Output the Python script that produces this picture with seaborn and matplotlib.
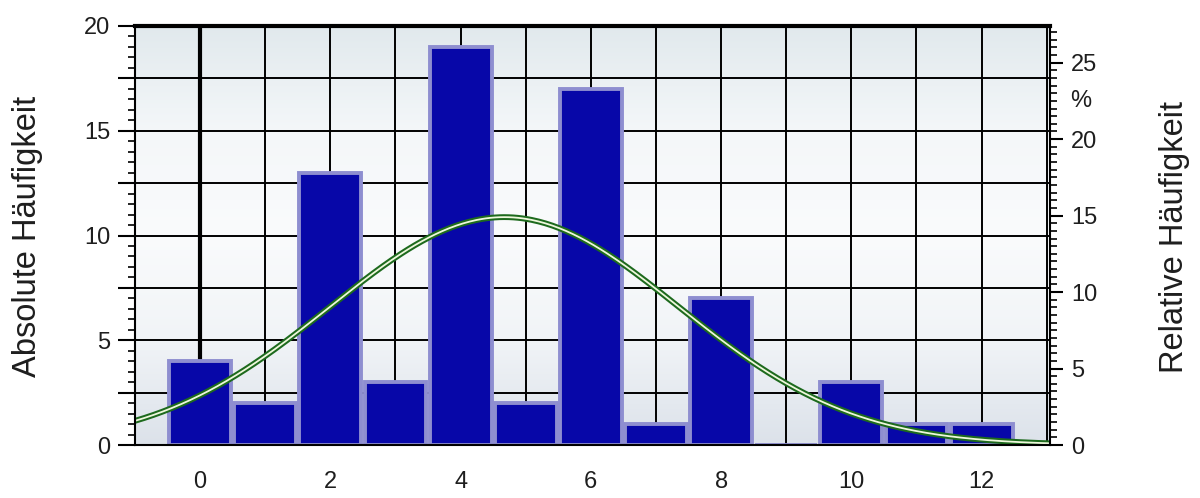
import numpy as np
import pandas as pd
import matplotlib
matplotlib.use('Agg')
import matplotlib.pyplot as plt
import seaborn as sns
from matplotlib.ticker import MultipleLocator, FuncFormatter
from matplotlib.colors import LinearSegmentedColormap

# Klassen und absolute Haeufigkeiten
klassen = list(range(13))
haeufigkeit = [4, 2, 13, 3, 19, 2, 17, 1, 7, 0, 3, 1, 1]

sns.set_style('white')
plt.rcParams['font.family'] = ['Liberation Sans', 'DejaVu Sans']

df = pd.DataFrame({'klasse': klassen, 'n': haeufigkeit})
n_total = df['n'].sum()
mittel = (df['klasse'] * df['n']).sum() / n_total
sd = np.sqrt(((df['klasse'] - mittel) ** 2 * df['n']).sum() / (n_total - 1))

xmin, xmax = -1.0, 13.05
ymax = 20
textfarbe = '#1e1e1e'

fig = plt.figure(figsize=(12, 4.98), dpi=100)
ax = fig.add_axes([0.1125, 0.1064, 0.7625, 0.8414])

# hintergrund verlauf
grad = np.linspace(0, 1, 256).reshape(-1, 1)
bg = LinearSegmentedColormap.from_list('bg', ['#e1e9ed', '#f4f7f9', '#fafbfc', '#f1f4f7', '#dce2ea'])
ax.imshow(grad, aspect='auto', cmap=bg, extent=[0, 1, 0, 1], transform=ax.transAxes, zorder=0)

# gitter
ax.set_axisbelow(True)
ax.grid(True, which='major', color='black', lw=1.4, zorder=1)
ax.axvline(0, color='black', lw=3, zorder=1.5)

# balken
sns.barplot(data=df, x='klasse', y='n', native_scale=True, width=0.95,
            color='#0707a8', saturation=1, edgecolor='#8e8ed0', linewidth=2.8,
            ax=ax, zorder=3)

# normalverteilung
xs = np.linspace(xmin, xmax, 400)
ys = n_total / (sd * np.sqrt(2 * np.pi)) * np.exp(-0.5 * ((xs - mittel) / sd) ** 2)
sns.lineplot(x=xs, y=ys, color='#1d6a1d', lw=4.2, ax=ax, zorder=4)
sns.lineplot(x=xs, y=ys, color='#eef8dc', lw=1.3, ax=ax, zorder=5)

ax.set_xlim(xmin, xmax)
ax.set_ylim(0, ymax)
ax.set_xlabel('')
ax.set_ylabel('')

ax.xaxis.set_major_locator(MultipleLocator(1))
ax.xaxis.set_minor_locator(MultipleLocator(0.2))
ax.xaxis.set_major_formatter(FuncFormatter(lambda v, p: f'{int(round(v))}' if round(v) % 2 == 0 else ''))
ax.yaxis.set_major_locator(MultipleLocator(2.5))
ax.yaxis.set_minor_locator(MultipleLocator(0.5))
ax.yaxis.set_major_formatter(FuncFormatter(lambda v, p: f'{int(round(v))}' if abs(v % 5) < 1e-6 else ''))

ax.tick_params(axis='y', which='major', direction='out', length=12, width=1.5,
               color='black', labelsize=17, labelcolor=textfarbe, pad=6)
ax.tick_params(axis='y', which='minor', direction='out', length=5, width=1.2, color='black')
ax.tick_params(axis='x', which='major', direction='out', length=11, width=1.5,
               color='black', labelsize=17, labelcolor=textfarbe, pad=8)
ax.tick_params(axis='x', which='minor', direction='out', length=7, width=1.2, color='black')

for side, s in ax.spines.items():
    s.set_color('black')
    s.set_linewidth(1.5)
    s.set_zorder(6)
ax.spines['top'].set_linewidth(3)

# rechte achse in prozent
ax2 = ax.twinx()
ax2.set_ylim(0, ymax / n_total * 100)
ax2.yaxis.set_major_locator(MultipleLocator(5))
ax2.yaxis.set_minor_locator(MultipleLocator(0.5))
ax2.tick_params(axis='y', which='major', direction='out', length=9, width=1.5,
                color='black', labelsize=17, labelcolor=textfarbe, pad=6)
ax2.tick_params(axis='y', which='minor', direction='out', length=5, width=1.2, color='black')
for s in ax2.spines.values():
    s.set_visible(False)
ax2.text(1.022, 22.5, '%', transform=ax2.get_yaxis_transform(), fontsize=17,
         color=textfarbe, va='center', ha='left')

fig.text(28 / 1200, 0.525, 'Absolute Häufigkeit', rotation=90, fontsize=23.5,
         color=textfarbe, ha='center', va='center')
fig.text(1174 / 1200, 0.525, 'Relative Häufigkeit', rotation=90, fontsize=23.5,
         color=textfarbe, ha='center', va='center')

fig.savefig('out.png', dpi=100)
